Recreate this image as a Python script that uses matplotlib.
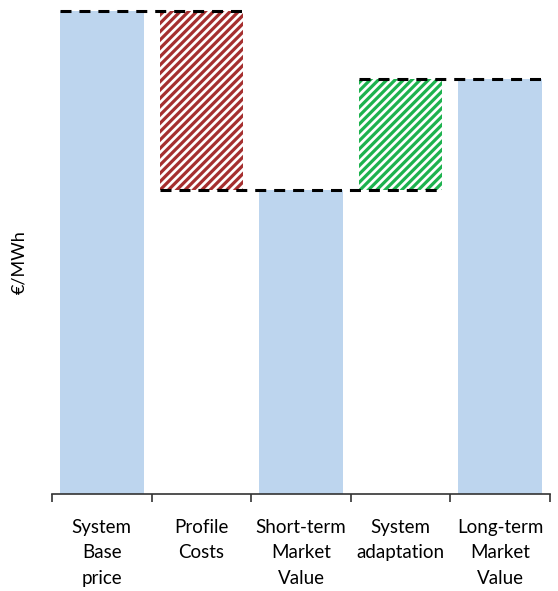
import numpy as np
import matplotlib
matplotlib.use("Agg")
import matplotlib.pyplot as plt

# data
categories = ["System\nBase\nprice", "Profile\nCosts", "Short-term\nMarket\nValue",
              "System\nadaptation", "Long-term\nMarket\nValue"]
base_price = 100.0
profile_costs = 37.0
short_term = base_price - profile_costs
system_adaptation = 23.0
long_term = short_term + system_adaptation

bottoms = [0, short_term, 0, short_term, 0]
heights = [base_price, profile_costs, short_term, system_adaptation, long_term]

blue = "#bdd5ee"
red = "#a52f2f"
green = "#1db24e"

plt.rcParams["font.family"] = ["Lato", "DejaVu Sans"]
plt.rcParams["hatch.linewidth"] = 2.3

fig = plt.figure(figsize=(5.58, 5.91), dpi=100)
ax = fig.add_axes([52 / 558, 97 / 591, 498 / 558, 494 / 591])

x = np.arange(len(categories))
w = 0.84
ax.bar(x[[0, 2, 4]], [heights[i] for i in (0, 2, 4)], width=w, color=blue, linewidth=0)
ax.bar(x[1], heights[1], bottom=bottoms[1], width=w, facecolor="white",
       edgecolor=red, hatch="////", linewidth=0)
ax.bar(x[3], heights[3], bottom=bottoms[3], width=w, facecolor="white",
       edgecolor=green, hatch="////", linewidth=0)

# connector lines
dash = dict(color="black", lw=2.2, dashes=(3.6, 2.6), zorder=5)
ax.plot([x[0] - w / 2, x[1] + w / 2], [base_price, base_price], **dash)
ax.plot([x[1] - w / 2, x[3] + w / 2], [short_term, short_term], **dash)
ax.plot([x[3] - w / 2, x[4] + w / 2], [long_term, long_term], **dash)

ax.set_xlim(-0.5, len(categories) - 0.5)
ax.set_ylim(0, base_price * 494 / 483)

for s in ["top", "right", "left"]:
    ax.spines[s].set_visible(False)
ax.spines["bottom"].set_color("#333333")
ax.spines["bottom"].set_linewidth(1.2)

ax.set_yticks([])
ax.set_xticks(x)
ax.set_xticklabels(categories, fontsize=13.5, linespacing=1.6)
ax.tick_params(axis="x", which="major", length=0, pad=18)
ax.set_xticks(np.arange(-0.5, len(categories)), minor=True)
ax.tick_params(axis="x", which="minor", length=6, width=1.2, color="#333333")

ax.set_ylabel("€/MWh", fontsize=13)
ax.yaxis.set_label_coords(-0.05, 0.47)

fig.savefig("out.png", dpi=100)
